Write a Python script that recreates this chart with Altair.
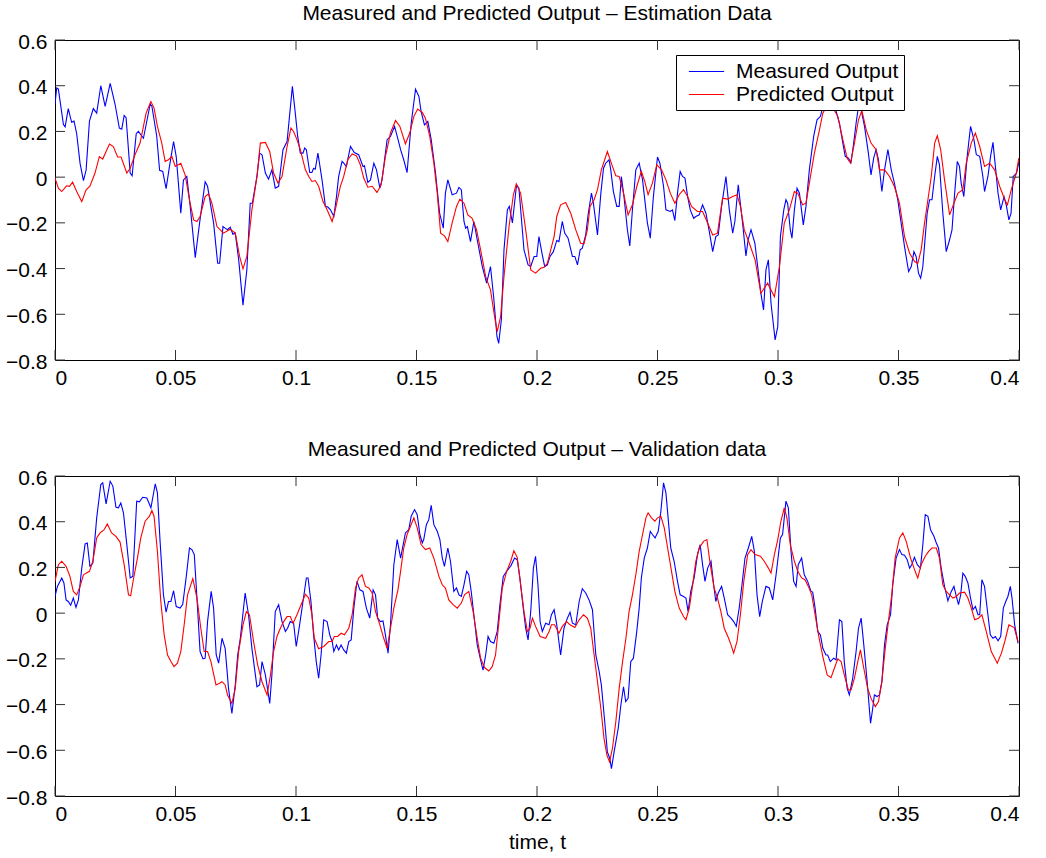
import altair as alt
import pandas as pd

FONT = "Liberation Sans, Arial, Helvetica, sans-serif"

TITLE_EST = "Measured and Predicted Output \u2013 Estimation Data"
TITLE_VAL = "Measured and Predicted Output \u2013 Validation data"
X_TITLE = "time, t"
SERIES = ["Measured Output", "Predicted Output"]
COLORS = ["#0000ff", "#ff0000"]
X_TICKS = [0, 0.05, 0.1, 0.15, 0.2, 0.25, 0.3, 0.35, 0.4]
Y_TICKS = [-0.8, -0.6, -0.4, -0.2, 0, 0.2, 0.4, 0.6]

# (time, value) - estimation data, measured
EST_MEAS = [
    (0, 0.32), (0.0007, 0.39), (0.0014, 0.385), (0.0035, 0.23), (0.0042, 0.22), (0.0055, 0.30), (0.0069, 0.24),
    (0.0079, 0.245), (0.0090, 0.19), (0.0104, 0.06), (0.0118, -0.015), (0.0129, 0.03), (0.0143, 0.245), (0.0159, 0.30),
    (0.0173, 0.28), (0.0190, 0.40), (0.0208, 0.31), (0.0229, 0.41), (0.0249, 0.32), (0.0267, 0.215), (0.0277, 0.21),
    (0.0287, 0.27), (0.0295, 0.26), (0.0312, 0.018), (0.0320, 0.006), (0.0337, 0.19), (0.0346, 0.20), (0.0367, 0.17),
    (0.0395, 0.32), (0.0402, 0.31), (0.0422, 0.18), (0.0434, 0.03), (0.0447, 0.025), (0.0461, -0.05), (0.0475, 0.047),
    (0.0492, 0.156), (0.0503, 0.09), (0.0512, -0.026), (0.0522, -0.158), (0.0533, -0.012), (0.0547, 0.003),
    (0.0561, -0.128), (0.0582, -0.352), (0.0600, -0.20), (0.0623, -0.02), (0.0633, -0.04), (0.0658, -0.20),
    (0.0675, -0.377), (0.0683, -0.377), (0.0697, -0.216), (0.0706, -0.223), (0.0716, -0.23), (0.0727, -0.219),
    (0.0738, -0.25), (0.0748, -0.245), (0.0762, -0.36), (0.0780, -0.56), (0.0796, -0.406), (0.0810, -0.114),
    (0.0819, -0.114), (0.0838, 0.003), (0.0849, 0.105), (0.0859, 0.098), (0.0873, 0.018), (0.0886, -0.009),
    (0.0900, 0.032), (0.0914, -0.048), (0.0928, -0.04), (0.0946, 0.12), (0.0963, 0.156), (0.0985, 0.397),
    (0.0997, 0.28), (0.1007, 0.178), (0.1018, 0.105), (0.1029, 0.105), (0.1036, 0.127), (0.1043, 0.12),
    (0.1057, 0.02), (0.1066, 0.02), (0.1073, 0.039), (0.1080, 0.035), (0.1091, 0.105), (0.1108, -0.012),
    (0.1122, -0.128), (0.1132, -0.131), (0.1143, -0.143), (0.1157, -0.172), (0.1168, -0.085), (0.1177, 0.003),
    (0.1191, 0.069), (0.1198, 0.061), (0.1209, 0.047), (0.1226, 0.134), (0.1242, 0.108), (0.1260, 0.098),
    (0.1278, 0.047), (0.1284, 0.05), (0.1298, -0.023), (0.1309, -0.012), (0.1323, 0.061), (0.1334, 0.032),
    (0.1348, -0.048), (0.1357, -0.012), (0.1378, 0.164), (0.1392, 0.178), (0.1409, 0.222), (0.1420, 0.178),
    (0.1434, 0.12), (0.1447, 0.076), (0.1461, 0.02), (0.1478, 0.236), (0.1496, 0.385), (0.1510, 0.353),
    (0.1519, 0.288), (0.1533, 0.229), (0.1547, 0.244), (0.1561, 0.164), (0.1579, 0.018), (0.1596, -0.158),
    (0.1611, -0.223), (0.1620, -0.07), (0.1630, -0.012), (0.1648, -0.077), (0.1666, -0.07), (0.1676, -0.045),
    (0.1686, -0.055), (0.1697, -0.194), (0.1704, -0.223), (0.1711, -0.216), (0.1724, -0.282), (0.1738, -0.194),
    (0.1752, -0.274), (0.1773, -0.391), (0.1791, -0.464), (0.1807, -0.391), (0.1820, -0.523), (0.1834, -0.698),
    (0.1841, -0.727), (0.1852, -0.625), (0.1863, -0.318), (0.1877, -0.143), (0.1885, -0.128), (0.1898, -0.20),
    (0.1915, -0.034), (0.1925, -0.048), (0.1946, -0.318), (0.1963, -0.384), (0.1974, -0.391), (0.1988, -0.347),
    (0.1999, -0.347), (0.2008, -0.26), (0.2022, -0.34), (0.2032, -0.391), (0.2043, -0.384), (0.2054, -0.347),
    (0.2068, -0.326), (0.2082, -0.277), (0.2091, -0.282), (0.2105, -0.194), (0.2115, -0.245), (0.2129, -0.267),
    (0.2147, -0.347), (0.2157, -0.347), (0.2168, -0.384), (0.2179, -0.318), (0.2188, -0.311), (0.2202, -0.253),
    (0.2212, -0.165), (0.2226, -0.07), (0.2234, -0.114), (0.2251, -0.253), (0.2265, -0.07), (0.2276, 0.039),
    (0.2285, 0.061), (0.2299, 0.076), (0.2306, 0.032), (0.2317, -0.063), (0.2331, -0.128), (0.2341, -0.128),
    (0.2350, 0.003), (0.2361, -0.085), (0.2375, -0.23), (0.2385, -0.301), (0.2396, -0.143), (0.2410, 0.032),
    (0.2424, 0.061), (0.2438, -0.012), (0.2458, -0.20), (0.2470, -0.267), (0.2483, -0.085), (0.2500, 0.088),
    (0.2510, 0.061), (0.2525, -0.04), (0.2535, -0.143), (0.2553, -0.15), (0.2562, -0.143), (0.2572, -0.19),
    (0.2583, -0.07), (0.2594, 0.025), (0.2604, 0.003), (0.2614, -0.004), (0.2625, -0.085), (0.2636, -0.143),
    (0.2650, -0.18), (0.2659, -0.172), (0.2673, -0.165), (0.2687, -0.121), (0.2701, -0.158), (0.2715, -0.238),
    (0.2729, -0.326), (0.2742, -0.26), (0.2752, -0.253), (0.2766, -0.128), (0.2784, 0.003), (0.2798, -0.143),
    (0.2812, -0.245), (0.2821, -0.194), (0.2835, -0.034), (0.2853, -0.20), (0.2867, -0.345), (0.2876, -0.274),
    (0.2888, -0.23), (0.2904, -0.289), (0.2929, -0.508), (0.2940, -0.581), (0.2950, -0.406), (0.2960, -0.362),
    (0.2971, -0.552), (0.2988, -0.712), (0.2999, -0.654), (0.3010, -0.26), (0.3024, -0.143), (0.3033, -0.099),
    (0.3040, -0.114), (0.3051, -0.231), (0.3058, -0.267), (0.3068, -0.143), (0.3079, -0.048), (0.3089, -0.07),
    (0.3105, -0.209), (0.3116, -0.128), (0.3130, 0.032), (0.3148, 0.178), (0.3162, 0.251), (0.3176, 0.266),
    (0.3190, 0.324), (0.3206, 0.33), (0.3227, 0.317), (0.3241, 0.288), (0.3255, 0.236), (0.3269, 0.149),
    (0.3279, 0.091), (0.3292, 0.083), (0.3303, 0.064), (0.3314, 0.149), (0.3324, 0.236), (0.3334, 0.31),
    (0.3345, 0.295), (0.3359, 0.222), (0.3375, 0.105), (0.3386, 0.01), (0.3397, 0.083), (0.3407, 0.12),
    (0.3417, 0.076), (0.3431, -0.063), (0.3442, 0.032), (0.3456, 0.12), (0.3470, 0.032), (0.3483, -0.026),
    (0.3497, -0.099), (0.3511, -0.201), (0.3525, -0.304), (0.3542, -0.413), (0.3553, -0.391), (0.3564, -0.326),
    (0.3573, -0.347), (0.3583, -0.42), (0.3592, -0.442), (0.3601, -0.391), (0.3611, -0.26), (0.3619, -0.158),
    (0.3629, -0.099), (0.3639, -0.099), (0.3650, 0.003), (0.3661, 0.091), (0.3670, 0.054), (0.3684, -0.158),
    (0.3698, -0.326), (0.3712, -0.274), (0.3722, -0.231), (0.3733, -0.07), (0.3744, 0.069), (0.3753, 0.047),
    (0.3760, -0.026), (0.3771, -0.085), (0.3785, 0.091), (0.3799, 0.222), (0.3813, 0.164), (0.3823, 0.098),
    (0.3837, 0.091), (0.3850, 0.003), (0.3857, -0.063), (0.3871, 0.003), (0.3882, 0.091), (0.3892, 0.152),
    (0.3902, 0.047), (0.3913, -0.07), (0.3924, -0.143), (0.3938, -0.085), (0.3947, -0.121), (0.3958, -0.187),
    (0.3967, -0.158), (0.3976, 0.003), (0.3990, 0.018), (0.4000, 0.069),
]

# estimation data, predicted
EST_PRED = [
    (0, -0.004), (0.0014, -0.048), (0.0028, -0.063), (0.0048, -0.038), (0.0060, -0.04), (0.0073, -0.022),
    (0.0090, -0.063), (0.0111, -0.107), (0.0129, -0.055), (0.0145, -0.04), (0.0166, 0.018), (0.0184, 0.09),
    (0.0198, 0.079), (0.0226, 0.145), (0.0242, 0.134), (0.0260, 0.088), (0.0274, 0.088), (0.0298, 0.018),
    (0.0312, 0.039), (0.0332, 0.098), (0.0353, 0.149), (0.0378, 0.28), (0.0398, 0.331), (0.0411, 0.302),
    (0.0425, 0.222), (0.0443, 0.149), (0.0457, 0.069), (0.0471, 0.076), (0.0485, 0.09), (0.0499, 0.047),
    (0.0522, 0.061), (0.0540, 0.01), (0.0558, -0.099), (0.0575, -0.187), (0.0589, -0.194), (0.0602, -0.172),
    (0.0623, -0.085), (0.0637, -0.073), (0.0651, -0.114), (0.0672, -0.216), (0.0699, -0.245), (0.0727, -0.228),
    (0.0748, -0.245), (0.0766, -0.347), (0.0780, -0.401), (0.0796, -0.347), (0.0817, -0.143), (0.0838, 0.003),
    (0.0852, 0.149), (0.0873, 0.152), (0.0891, 0.112), (0.0907, 0.018), (0.0925, -0.026), (0.0942, 0.003),
    (0.0963, 0.134), (0.0979, 0.215), (0.0990, 0.20), (0.1004, 0.164), (0.1018, 0.12), (0.1039, 0.032),
    (0.1053, 0.003), (0.1066, -0.019), (0.1080, -0.015), (0.1094, -0.04), (0.1112, -0.107), (0.1129, -0.143),
    (0.1150, -0.194), (0.1163, -0.143), (0.1184, -0.04), (0.1198, 0.003), (0.1215, 0.076), (0.1233, 0.102),
    (0.1251, 0.093), (0.1267, 0.054), (0.1281, -0.004), (0.1298, -0.044), (0.1316, -0.04), (0.1336, -0.067),
    (0.1353, -0.034), (0.1371, 0.09), (0.1392, 0.193), (0.1413, 0.248), (0.1431, 0.222), (0.1454, 0.146),
    (0.1472, 0.193), (0.1489, 0.266), (0.1505, 0.298), (0.1524, 0.283), (0.1537, 0.258), (0.1555, 0.178),
    (0.1572, 0.061), (0.1586, -0.07), (0.1600, -0.245), (0.1616, -0.257), (0.1630, -0.282), (0.1648, -0.20),
    (0.1666, -0.128), (0.1680, -0.096), (0.1697, -0.114), (0.1713, -0.165), (0.1731, -0.18), (0.1749, -0.23),
    (0.1766, -0.318), (0.1787, -0.435), (0.1807, -0.493), (0.1824, -0.61), (0.1835, -0.676), (0.1849, -0.61),
    (0.1863, -0.435), (0.1884, -0.216), (0.1902, -0.077), (0.1914, -0.029), (0.1932, -0.07), (0.1953, -0.23),
    (0.1974, -0.406), (0.1994, -0.42), (0.2015, -0.399), (0.2029, -0.394), (0.2043, -0.377), (0.2057, -0.318),
    (0.2071, -0.26), (0.2082, -0.172), (0.2098, -0.121), (0.2119, -0.111), (0.2140, -0.158), (0.2161, -0.231),
    (0.2181, -0.289), (0.2195, -0.292), (0.2209, -0.231), (0.2220, -0.128), (0.2237, -0.099), (0.2251, -0.055),
    (0.2267, 0.032), (0.2292, 0.112), (0.2313, 0.047), (0.2327, 0.006), (0.2341, 0.003), (0.2359, -0.07),
    (0.2378, -0.165), (0.2396, -0.121), (0.2414, -0.041), (0.2433, 0.025), (0.2447, -0.019), (0.2461, -0.077),
    (0.2479, -0.026), (0.2497, 0.054), (0.2517, 0.032), (0.2535, -0.012), (0.2553, -0.07), (0.2572, -0.114),
    (0.2590, -0.077), (0.2608, -0.055), (0.2625, -0.085), (0.2641, -0.128), (0.2666, -0.15), (0.2687, -0.15),
    (0.2708, -0.201), (0.2729, -0.253), (0.2749, -0.245), (0.2770, -0.092), (0.2791, -0.096), (0.2812, -0.085),
    (0.2830, -0.077), (0.2844, -0.128), (0.2860, -0.231), (0.2881, -0.289), (0.2905, -0.362), (0.2929, -0.508),
    (0.2957, -0.464), (0.2985, -0.523), (0.3006, -0.391), (0.3026, -0.201), (0.3047, -0.143), (0.3068, -0.063),
    (0.3082, -0.07), (0.3102, -0.121), (0.3116, -0.114), (0.3130, -0.026), (0.3151, 0.105), (0.3172, 0.207),
    (0.3186, 0.28), (0.3213, 0.331), (0.3248, 0.266), (0.3269, 0.164), (0.3287, 0.083), (0.3301, 0.061),
    (0.3317, 0.149), (0.3334, 0.251), (0.3348, 0.292), (0.3366, 0.207), (0.3386, 0.149), (0.3407, 0.12),
    (0.3421, 0.032), (0.3442, 0.032), (0.3463, 0.003), (0.3483, -0.041), (0.3504, -0.114), (0.3525, -0.26),
    (0.3546, -0.333), (0.3567, -0.369), (0.3580, -0.377), (0.3594, -0.318), (0.3608, -0.201), (0.3622, -0.099),
    (0.3636, 0.003), (0.3650, 0.149), (0.3661, 0.181), (0.3675, 0.12), (0.3691, -0.012), (0.3712, -0.165),
    (0.3730, -0.114), (0.3747, -0.07), (0.3767, -0.055), (0.3781, 0.061), (0.3802, 0.149), (0.3819, 0.193),
    (0.3837, 0.134), (0.3857, 0.047), (0.3878, 0.061), (0.3899, 0.032), (0.3920, -0.041), (0.3941, -0.099),
    (0.3952, -0.121), (0.3968, -0.055), (0.3989, 0.018), (0.3999, 0.083),
]

# validation data, measured
VAL_MEAS = [
    (0, 0.073), (0.0010, 0.117), (0.0028, 0.154), (0.0037, 0.132), (0.0046, 0.058), (0.0055, 0.051),
    (0.0065, 0.034), (0.0076, 0.066), (0.0087, 0.025), (0.0097, 0.058), (0.0111, 0.197), (0.0125, 0.303),
    (0.0134, 0.307), (0.0145, 0.205), (0.0157, 0.219), (0.0173, 0.417), (0.0190, 0.563), (0.0198, 0.570),
    (0.0212, 0.478), (0.0229, 0.577), (0.0240, 0.556), (0.0253, 0.463), (0.0263, 0.461), (0.0273, 0.482),
    (0.0284, 0.439), (0.0298, 0.30), (0.0312, 0.154), (0.0323, 0.161), (0.0339, 0.49), (0.0350, 0.487),
    (0.0364, 0.507), (0.0381, 0.504), (0.0398, 0.461), (0.0416, 0.566), (0.0425, 0.526), (0.0436, 0.314),
    (0.0450, 0.08), (0.0461, 0.004), (0.0471, 0.051), (0.0481, 0.051), (0.0492, 0.098), (0.0503, 0.029),
    (0.0519, 0.022), (0.0530, 0.039), (0.0544, 0.154), (0.0558, 0.285), (0.0568, 0.278), (0.0578, 0.256),
    (0.0589, 0.066), (0.0602, -0.168), (0.0614, -0.20), (0.0623, -0.197), (0.0633, -0.037), (0.0648, 0.095),
    (0.0658, 0.022), (0.0669, -0.183), (0.0679, -0.219), (0.0693, -0.11), (0.0706, -0.154), (0.0720, -0.329),
    (0.0734, -0.439), (0.0748, -0.314), (0.0758, -0.183), (0.0769, -0.11), (0.0789, 0.088), (0.0803, -0.007),
    (0.0817, -0.154), (0.0838, -0.322), (0.0849, -0.314), (0.0859, -0.212), (0.0873, -0.27), (0.0891, -0.395),
    (0.0900, -0.27), (0.0914, 0.007), (0.0928, 0.037), (0.0942, -0.037), (0.0956, -0.08), (0.0965, -0.066),
    (0.0976, -0.037), (0.0990, -0.044), (0.1001, -0.146), (0.1015, -0.051), (0.1029, 0.051), (0.1043, 0.154),
    (0.1050, 0.154), (0.1062, 0.051), (0.1073, -0.095), (0.1084, -0.212), (0.1094, -0.285), (0.1104, -0.183),
    (0.1115, -0.029), (0.1129, -0.037), (0.1140, -0.095), (0.1150, -0.124), (0.1157, -0.168), (0.1168, -0.139),
    (0.1177, -0.161), (0.1187, -0.139), (0.1198, -0.161), (0.1209, -0.175), (0.1219, -0.124), (0.1229, -0.117),
    (0.1240, 0.022), (0.1253, 0.139), (0.1265, 0.102), (0.1278, 0.095), (0.1292, 0.022), (0.1306, -0.022),
    (0.1320, 0.102), (0.1330, 0.08), (0.1339, -0.022), (0.1350, -0.037), (0.1361, -0.034), (0.1371, -0.095),
    (0.1382, -0.175), (0.1392, -0.051), (0.1406, 0.212), (0.1420, 0.322), (0.1434, 0.241), (0.1454, 0.351),
    (0.1468, 0.365), (0.1478, 0.424), (0.1492, 0.453), (0.1503, 0.431), (0.1514, 0.344), (0.1524, 0.307),
    (0.1530, 0.322), (0.1541, 0.387), (0.1551, 0.409), (0.1561, 0.472), (0.1572, 0.387), (0.1586, 0.358),
    (0.1597, 0.322), (0.1607, 0.241), (0.1616, 0.205), (0.1630, 0.285), (0.1641, 0.227), (0.1655, 0.095),
    (0.1666, 0.11), (0.1676, 0.08), (0.1686, 0.073), (0.1697, 0.124), (0.1708, 0.183), (0.1717, 0.168),
    (0.1727, 0.095), (0.1738, -0.007), (0.1752, -0.139), (0.1766, -0.205), (0.1776, -0.249), (0.1787, -0.183),
    (0.1797, -0.102), (0.1807, -0.124), (0.1821, -0.132), (0.1835, -0.08), (0.1846, 0.037), (0.1860, 0.161),
    (0.1874, 0.183), (0.1884, 0.197), (0.1892, 0.208), (0.1907, 0.241), (0.1918, 0.234), (0.1929, 0.154),
    (0.1943, 0.022), (0.1953, -0.066), (0.1963, -0.117), (0.1974, 0.007), (0.1985, 0.197), (0.1994, 0.249),
    (0.2004, 0.124), (0.2013, -0.037), (0.2022, -0.08), (0.2036, -0.044), (0.2050, -0.051), (0.2060, -0.007),
    (0.2071, 0.015), (0.2082, -0.051), (0.2098, -0.183), (0.2112, -0.066), (0.2126, -0.022), (0.2137, 0.004),
    (0.2147, -0.044), (0.2161, -0.051), (0.2175, 0.051), (0.2188, 0.107), (0.2202, 0.088), (0.2216, 0.058),
    (0.2230, 0.015), (0.2244, -0.183), (0.2258, -0.256), (0.2267, -0.314), (0.2281, -0.475), (0.2292, -0.607),
    (0.2302, -0.636), (0.2309, -0.68), (0.2320, -0.607), (0.2337, -0.504), (0.2348, -0.402), (0.2359, -0.322),
    (0.2368, -0.387), (0.2378, -0.373), (0.2389, -0.212), (0.2400, -0.197), (0.2414, -0.08), (0.2424, 0.022),
    (0.2433, 0.154), (0.2445, 0.241), (0.2458, 0.285), (0.2470, 0.358), (0.2479, 0.344), (0.2490, 0.329),
    (0.2503, 0.358), (0.2514, 0.446), (0.2525, 0.570), (0.2535, 0.526), (0.2544, 0.417), (0.2555, 0.285),
    (0.2569, 0.227), (0.2583, 0.139), (0.2594, 0.08), (0.2608, 0.073), (0.2618, 0.066), (0.2627, 0.007),
    (0.2638, 0.095), (0.2652, 0.154), (0.2666, 0.256), (0.2677, 0.30), (0.2687, 0.212), (0.2697, 0.139),
    (0.2708, 0.197), (0.2722, 0.227), (0.2733, 0.124), (0.2742, 0.051), (0.2752, 0.088), (0.2766, 0.117),
    (0.2777, 0.066), (0.2791, -0.007), (0.2805, -0.022), (0.2816, -0.037), (0.2827, -0.058), (0.2839, 0.022),
    (0.2849, 0.11), (0.2863, 0.241), (0.2877, 0.285), (0.2891, 0.336), (0.2902, 0.27), (0.2913, 0.08),
    (0.2924, -0.015), (0.2935, 0.051), (0.2950, 0.117), (0.2964, 0.11), (0.2978, 0.058), (0.2992, 0.168),
    (0.3010, 0.329), (0.3019, 0.344), (0.3033, 0.49), (0.3043, 0.461), (0.3054, 0.27), (0.3065, 0.139),
    (0.3075, 0.117), (0.3084, 0.212), (0.3098, 0.241), (0.3109, 0.168), (0.3123, 0.139), (0.3137, 0.095),
    (0.3144, 0.092), (0.3154, 0.022), (0.3165, -0.08), (0.3176, -0.095), (0.3186, -0.154), (0.3199, -0.183),
    (0.3206, -0.183), (0.3217, -0.212), (0.3231, -0.197), (0.3241, -0.205), (0.3255, -0.029), (0.3265, -0.037),
    (0.3275, -0.212), (0.3287, -0.329), (0.3296, -0.358), (0.3310, -0.285), (0.3324, -0.168), (0.3334, -0.066),
    (0.3345, -0.022), (0.3356, -0.139), (0.3370, -0.30), (0.3384, -0.482), (0.3393, -0.417), (0.3400, -0.358),
    (0.3411, -0.365), (0.3421, -0.358), (0.3431, -0.30), (0.3442, -0.139), (0.3453, -0.051), (0.3467, -0.007),
    (0.3476, 0.124), (0.3490, 0.241), (0.3504, 0.278), (0.3514, 0.256), (0.3525, 0.253), (0.3536, 0.234),
    (0.3546, 0.197), (0.3555, 0.212), (0.3566, 0.244), (0.3578, 0.212), (0.3591, 0.197), (0.3601, 0.30),
    (0.3611, 0.431), (0.3622, 0.424), (0.3633, 0.365), (0.3647, 0.336), (0.3657, 0.307), (0.3666, 0.285),
    (0.3677, 0.197), (0.3691, 0.117), (0.3705, 0.054), (0.3719, 0.095), (0.3730, 0.117), (0.3740, 0.073),
    (0.3749, 0.037), (0.3758, 0.08), (0.3767, 0.175), (0.3777, 0.161), (0.3788, 0.132), (0.3799, 0.066),
    (0.3809, 0.015), (0.3819, 0.029), (0.3830, -0.007), (0.3837, -0.007), (0.3846, 0.146), (0.3857, 0.117),
    (0.3871, -0.007), (0.3881, -0.095), (0.3892, -0.11), (0.3902, -0.102), (0.3913, -0.121), (0.3924, -0.102),
    (0.3935, 0.022), (0.3945, 0.051), (0.3954, 0.073), (0.3964, 0.117), (0.3971, 0.066), (0.3982, -0.051),
    (0.3996, -0.132),
]

# validation data, predicted
VAL_PRED = [
    (0, 0.139), (0.0014, 0.212), (0.0028, 0.227), (0.0046, 0.205), (0.0062, 0.161), (0.0076, 0.095),
    (0.0090, 0.08), (0.0104, 0.117), (0.0118, 0.168), (0.0129, 0.175), (0.0143, 0.183), (0.0157, 0.227),
    (0.0173, 0.329), (0.0187, 0.351), (0.0204, 0.365), (0.0217, 0.39), (0.0235, 0.351), (0.0253, 0.336),
    (0.0270, 0.311), (0.0287, 0.212), (0.0305, 0.08), (0.0314, 0.076), (0.0325, 0.146), (0.0342, 0.241),
    (0.0356, 0.329), (0.0374, 0.402), (0.0392, 0.424), (0.0402, 0.449), (0.0411, 0.424), (0.0425, 0.27),
    (0.0439, 0.051), (0.0453, -0.095), (0.0467, -0.183), (0.0481, -0.212), (0.0494, -0.234), (0.0508, -0.219),
    (0.0522, -0.168), (0.0536, -0.051), (0.0550, 0.08), (0.0572, 0.151), (0.0589, 0.066), (0.0605, -0.066),
    (0.0619, -0.168), (0.0633, -0.168), (0.0647, -0.212), (0.0668, -0.314), (0.0683, -0.307), (0.0693, -0.30),
    (0.0706, -0.314), (0.0716, -0.358), (0.0734, -0.395), (0.0748, -0.329), (0.0762, -0.168), (0.0780, -0.051),
    (0.0794, 0.007), (0.0807, -0.007), (0.0824, -0.124), (0.0841, -0.227), (0.0859, -0.30), (0.0880, -0.358),
    (0.0893, -0.278), (0.0907, -0.168), (0.0921, -0.102), (0.0935, -0.066), (0.0949, -0.037), (0.0963, -0.015),
    (0.0976, -0.015), (0.0988, -0.044), (0.1004, -0.007), (0.1021, 0.037), (0.1039, 0.083), (0.1053, 0.066),
    (0.1066, -0.007), (0.1076, -0.11), (0.1094, -0.156), (0.1115, -0.146), (0.1136, -0.124), (0.1150, -0.124),
    (0.1159, -0.102), (0.1173, -0.102), (0.1187, -0.088), (0.1201, -0.095), (0.1219, -0.066), (0.1233, -0.007),
    (0.1247, 0.11), (0.1260, 0.154), (0.1274, 0.168), (0.1288, 0.117), (0.1302, 0.11), (0.1316, 0.088),
    (0.1330, 0.007), (0.1348, -0.051), (0.1364, -0.11), (0.1378, -0.154), (0.1392, -0.066), (0.1406, 0.022),
    (0.1423, 0.102), (0.1434, 0.183), (0.1447, 0.285), (0.1461, 0.344), (0.1475, 0.38), (0.1489, 0.417),
    (0.1503, 0.373), (0.1519, 0.30), (0.1537, 0.278), (0.1555, 0.285), (0.1572, 0.241), (0.1593, 0.161),
    (0.1607, 0.124), (0.1620, 0.11), (0.1634, 0.058), (0.1652, 0.037), (0.1669, 0.022), (0.1686, 0.044),
    (0.1699, 0.08), (0.1717, 0.095), (0.1735, 0.007), (0.1752, -0.11), (0.1766, -0.197), (0.1782, -0.238),
    (0.1800, -0.253), (0.1814, -0.234), (0.1828, -0.183), (0.1842, -0.037), (0.1856, 0.11), (0.1874, 0.183),
    (0.1891, 0.227), (0.1904, 0.273), (0.1918, 0.244), (0.1932, 0.124), (0.1946, 0.007), (0.1960, -0.08),
    (0.1971, -0.066), (0.1981, -0.022), (0.1994, -0.058), (0.2013, -0.102), (0.2036, -0.11), (0.2050, -0.08),
    (0.2060, -0.051), (0.2073, -0.051), (0.2091, -0.088), (0.2105, -0.058), (0.2123, -0.037), (0.2137, -0.051),
    (0.2157, -0.063), (0.2175, -0.029), (0.2193, -0.007), (0.2209, -0.022), (0.2223, -0.066), (0.2237, -0.183),
    (0.2251, -0.30), (0.2265, -0.417), (0.2278, -0.548), (0.2290, -0.621), (0.2301, -0.651), (0.2313, -0.592),
    (0.2327, -0.475), (0.2341, -0.329), (0.2355, -0.212), (0.2369, -0.11), (0.2382, 0.007), (0.2396, 0.08),
    (0.2410, 0.168), (0.2424, 0.27), (0.2438, 0.344), (0.2452, 0.417), (0.2461, 0.439), (0.2475, 0.417),
    (0.2489, 0.402), (0.2500, 0.417), (0.2514, 0.424), (0.2528, 0.373), (0.2542, 0.285), (0.2556, 0.197),
    (0.2572, 0.095), (0.2590, 0.022), (0.2608, -0.015), (0.2618, -0.029), (0.2632, 0.022), (0.2645, 0.117),
    (0.2659, 0.227), (0.2673, 0.285), (0.2691, 0.314), (0.2705, 0.322), (0.2719, 0.212), (0.2735, 0.11),
    (0.2749, 0.066), (0.2763, 0.007), (0.2777, -0.066), (0.2795, -0.11), (0.2805, -0.139), (0.2816, -0.175),
    (0.2830, -0.124), (0.2844, -0.007), (0.2858, 0.139), (0.2874, 0.256), (0.2888, 0.278), (0.2905, 0.256),
    (0.2927, 0.249), (0.2943, 0.227), (0.2960, 0.197), (0.2971, 0.175), (0.2985, 0.256), (0.2999, 0.322),
    (0.3012, 0.402), (0.3026, 0.461), (0.3037, 0.417), (0.3051, 0.30), (0.3068, 0.227), (0.3082, 0.183),
    (0.3098, 0.154), (0.3112, 0.146), (0.3126, 0.117), (0.3140, 0.08), (0.3154, -0.007), (0.3168, -0.095),
    (0.3186, -0.19), (0.3204, -0.27), (0.3220, -0.282), (0.3234, -0.241), (0.3248, -0.20), (0.3262, -0.212),
    (0.3275, -0.27), (0.3292, -0.336), (0.3303, -0.336), (0.3317, -0.285), (0.3331, -0.212), (0.3342, -0.161),
    (0.3356, -0.241), (0.3372, -0.329), (0.3386, -0.373), (0.3404, -0.409), (0.3417, -0.387), (0.3431, -0.30),
    (0.3445, -0.154), (0.3458, -0.037), (0.3472, 0.08), (0.3486, 0.241), (0.3504, 0.329), (0.3518, 0.351),
    (0.3532, 0.314), (0.3550, 0.241), (0.3569, 0.183), (0.3580, 0.154), (0.3594, 0.212), (0.3611, 0.249),
    (0.3625, 0.27), (0.3639, 0.285), (0.3657, 0.285), (0.3670, 0.241), (0.3684, 0.124), (0.3698, 0.095),
    (0.3712, 0.08), (0.3726, 0.066), (0.3740, 0.073), (0.3753, 0.088), (0.3774, 0.092), (0.3788, 0.066),
    (0.3802, 0.022), (0.3816, -0.029), (0.3832, -0.022), (0.3846, -0.007), (0.3864, -0.08), (0.3885, -0.168),
    (0.3910, -0.219), (0.3927, -0.175), (0.3941, -0.124), (0.3958, -0.051), (0.3980, -0.063), (0.3996, -0.124),
]

W, H, TL = 964, 320, 10


def frame(pairs, name):
    df = pd.DataFrame(pairs, columns=["t", "v"])
    df["series"] = name
    return df


xscale = alt.Scale(domain=[0, 0.4], nice=False, zero=False)
yscale = alt.Scale(domain=[-0.8, 0.6], nice=False, zero=False)
cscale = alt.Scale(domain=SERIES, range=COLORS)
xticks_df = pd.DataFrame({"t": X_TICKS})
yticks_df = pd.DataFrame({"v": Y_TICKS})


def panel(meas, pred, title, xtitle, with_legend):
    xaxis = alt.Axis(values=X_TICKS, format="~g", title=xtitle, labelPadding=7,
                     titlePadding=7, titleFontWeight="normal", titleFontSize=21,
                     titleFont=FONT, titleColor="black")
    yaxis = alt.Axis(values=Y_TICKS, format="~g", title=None, labelPadding=8, labelOffset=2)
    x = alt.X("t:Q", scale=xscale, axis=xaxis)
    y = alt.Y("v:Q", scale=yscale, axis=yaxis)
    if with_legend:
        leg = alt.Legend(orient="none", legendX=621, legendY=15, title=None,
                         strokeColor="black", fillColor="white", padding=5,
                         symbolType="M-1.6,0L1.6,0", symbolSize=484, symbolStrokeWidth=1,
                         symbolOffset=14, labelOffset=18, labelFontSize=21, labelFont=FONT,
                         labelColor="black", labelLimit=400, rowPadding=1)
        color = alt.Color("series:N", scale=cscale, legend=leg)
    else:
        color = alt.Color("series:N", scale=cscale, legend=None)
    l1 = alt.Chart(frame(meas, SERIES[0])).mark_line(strokeWidth=1.1, clip=True).encode(x=x, y=y, color=color)
    l2 = alt.Chart(frame(pred, SERIES[1])).mark_line(strokeWidth=1.1, clip=True).encode(x=x, y=y, color=color)
    rule = dict(color="#333333", strokeWidth=1)
    xt = alt.Chart(xticks_df)
    yt = alt.Chart(yticks_df)
    t_top = xt.mark_rule(**rule).encode(x=alt.X("t:Q", scale=xscale), y=alt.value(0), y2=alt.value(TL))
    t_bot = xt.mark_rule(**rule).encode(x=alt.X("t:Q", scale=xscale), y=alt.value(H - TL), y2=alt.value(H))
    t_left = yt.mark_rule(**rule).encode(y=alt.Y("v:Q", scale=yscale), x=alt.value(0), x2=alt.value(TL))
    t_right = yt.mark_rule(**rule).encode(y=alt.Y("v:Q", scale=yscale), x=alt.value(W - TL), x2=alt.value(W))
    return alt.layer(l1, l2, t_top, t_bot, t_left, t_right).properties(
        width=W, height=H,
        title=alt.TitleParams(title, fontSize=21, font=FONT, fontWeight="normal", color="black", offset=7),
    )


top = panel(EST_MEAS, EST_PRED, TITLE_EST, None, True)
bottom = panel(VAL_MEAS, VAL_PRED, TITLE_VAL, X_TITLE, False)

chart = alt.vconcat(top, bottom, spacing=49).resolve_scale(color="shared").configure(
    padding={"left": 5, "top": 2, "right": 10, "bottom": 0},
    background="white",
).configure_view(stroke="black", strokeWidth=1).configure_axis(
    labelFont=FONT, labelFontSize=21, labelColor="black", ticks=False, grid=False, domain=False,
)

chart.save("out.html", embed_options={"renderer": "svg", "actions": False})
